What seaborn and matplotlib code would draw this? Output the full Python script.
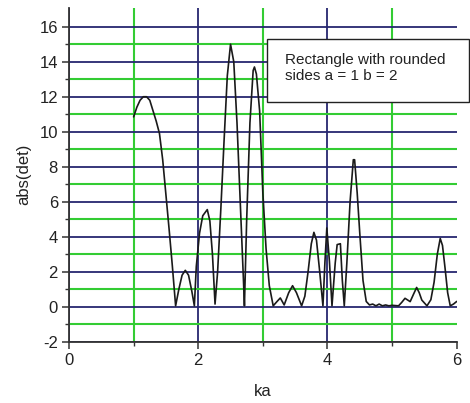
import matplotlib
matplotlib.use("Agg")
import matplotlib.pyplot as plt
from matplotlib.ticker import FixedLocator
from matplotlib.patches import Rectangle
import seaborn as sns
import pandas as pd

# |det| of the boundary matrix against wave number ka
ka = [1.00, 1.05, 1.10, 1.15, 1.20, 1.25, 1.30, 1.35, 1.40, 1.45, 1.50, 1.55, 1.60, 1.65,
      1.70, 1.75, 1.80, 1.85, 1.90, 1.94,
      1.97, 2.02, 2.07, 2.14, 2.18, 2.22, 2.26,
      2.30, 2.35, 2.40, 2.45, 2.50, 2.55, 2.60, 2.65, 2.70, 2.715,
      2.75, 2.80, 2.85, 2.87, 2.90, 2.95, 3.00, 3.05, 3.10, 3.16,
      3.22, 3.27, 3.33, 3.40, 3.46, 3.52, 3.60,
      3.65, 3.70, 3.75, 3.79, 3.83, 3.88, 3.93,
      3.96, 3.99, 4.03, 4.07,
      4.12, 4.15, 4.20, 4.23, 4.26,
      4.30, 4.35, 4.40, 4.42, 4.46, 4.50, 4.55, 4.60, 4.65,
      4.70, 4.75, 4.80, 4.85, 4.90, 4.95, 5.00, 5.10,
      5.15, 5.20, 5.28, 5.33, 5.38, 5.42, 5.46, 5.54,
      5.60, 5.65, 5.70, 5.745, 5.78, 5.82, 5.86, 5.90, 5.95, 6.00]
abs_det = [10.85, 11.4, 11.8, 12.0, 12.0, 11.8, 11.2, 10.6, 9.9, 8.4, 6.4, 4.4, 2.3, 0.05,
           1.0, 1.8, 2.08, 1.8, 0.9, 0.05,
           2.3, 4.2, 5.2, 5.55, 4.9, 3.0, 0.15,
           2.0, 5.6, 9.5, 13.2, 15.0, 14.0, 10.5, 6.0, 1.5, 0.05,
           5.0, 10.5, 13.5, 13.7, 13.3, 11.2, 6.5, 3.3, 1.2, 0.05,
           0.3, 0.5, 0.1, 0.8, 1.2, 0.8, 0.05,
           0.6, 2.0, 3.6, 4.25, 3.8, 2.0, 0.05,
           2.5, 4.5, 2.6, 0.05,
           2.5, 3.55, 3.6, 1.5, 0.05,
           2.5, 6.0, 8.4, 8.4, 6.5, 4.2, 1.5, 0.3, 0.1,
           0.15, 0.05, 0.15, 0.05, 0.1, 0.05, 0.08, 0.05,
           0.25, 0.48, 0.29, 0.7, 1.1, 0.8, 0.38, 0.05,
           0.4, 1.4, 3.0, 3.9, 3.5, 2.2, 0.8, 0.05, 0.15, 0.3]

x_ticks = [0, 2, 4, 6]
x_minor = [1, 3, 5]
y_ticks = [-2, 0, 2, 4, 6, 8, 10, 12, 14, 16]
y_minor = [-1, 1, 3, 5, 7, 9, 11, 13, 15]
legend_text = "Rectangle with rounded\nsides a = 1 b = 2"

sns.set_style("white")
plt.rcParams["font.family"] = ["Liberation Sans", "DejaVu Sans"]
plt.rcParams["axes.unicode_minus"] = False

fig = plt.figure(figsize=(4.70, 4.03), dpi=100)
ax = fig.add_axes([69 / 470, 1 - 341.7 / 403, (456.7 - 69) / 470, (341.7 - 7.5) / 403])

df = pd.DataFrame({"ka": ka, "abs(det)": abs_det})
sns.lineplot(data=df, x="ka", y="abs(det)", sort=False, color="#1a1a1a",
             linewidth=1.2, ax=ax, zorder=5)

ax.set_xlim(0, 6)
ax.set_ylim(-2, 17.1)
ax.set_xticks(x_ticks)
ax.set_yticks(y_ticks)
ax.xaxis.set_minor_locator(FixedLocator(x_minor))
ax.yaxis.set_minor_locator(FixedLocator(y_minor))

blue = "#262670"
green = "#33cc33"
ax.grid(True, which="major", color=blue, linewidth=1.3)
ax.grid(True, which="minor", color=green, linewidth=1.5)
ax.set_axisbelow(True)
# no vertical grid line on the right-hand limit
for gl, t in zip(ax.xaxis.get_gridlines(), ax.get_xticks()):
    if t >= 6:
        gl.set_visible(False)

for side in ("top", "right"):
    ax.spines[side].set_visible(False)
for side in ("left", "bottom"):
    ax.spines[side].set_color("#333333")
    ax.spines[side].set_linewidth(1.3)

ax.tick_params(which="major", direction="out", length=5, width=1.1, color="#333333",
               labelsize=12, labelcolor="#222222", pad=3, left=True, bottom=True)
ax.tick_params(which="minor", direction="out", length=3, width=1.0, color="#333333",
               left=True, bottom=True)

ax.set_xlabel("ka", fontsize=12, color="#222222", labelpad=12)
ax.set_ylabel("abs(det)", fontsize=12, color="#222222", labelpad=6)

# annotation box in the upper right
box = Rectangle((267 / 470, 1 - 102 / 403), (469 - 267) / 470, (102 - 39) / 403,
                transform=fig.transFigure, facecolor="white", edgecolor="#222222",
                linewidth=1.0, zorder=10)
fig.patches.append(box)
fig.text(285 / 470, 1 - 68 / 403, legend_text, fontsize=11, color="#222222",
         va="center", ha="left", linespacing=1.2, zorder=11)

fig.savefig("out.png", dpi=100, facecolor="white")
